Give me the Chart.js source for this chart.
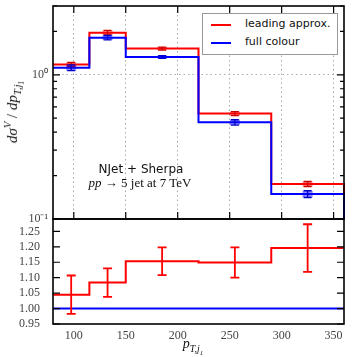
<!DOCTYPE html>
<html>
<head>
<meta charset="utf-8">
<script src="https://cdn.jsdelivr.net/npm/chart.js@4.4.1/dist/chart.umd.min.js"></script>
<style>
    body { margin: 0; background: #fff; width: 357px; height: 357px; position: relative; overflow: hidden; }
    canvas { position: absolute; left: 0; }
    #grafTop { top: 0; }
    #grafRatio { top: 212px; }
    .txt { position: absolute; white-space: nowrap; color: #111; }
    .serif { font-family: "Liberation Serif", serif; }
    .sans { font-family: "DejaVu Sans", sans-serif; }
    #leyenda { position: absolute; left: 202px; top: 13px; width: 134px; height: 40px; border: 1px solid #999; background: #fff; }
    .muestra { position: absolute; left: 8px; width: 20px; height: 2px; }
    .ley-txt { position: absolute; left: 42px; white-space: nowrap; font: 11px "DejaVu Sans", sans-serif; color: #111; }
    sub { font-size: 70%; }
    sup { font-size: 70%; }
</style>
</head>
<body>
<canvas id="grafTop" width="357" height="232"></canvas>
<canvas id="grafRatio" width="357" height="145"></canvas>

<div id="leyenda">
    <div class="muestra" style="top:10px;background:#ff0000"></div>
    <div class="ley-txt" style="top:3px">leading approx.</div>
    <div class="muestra" style="top:28px;background:#0000ff"></div>
    <div class="ley-txt" style="top:21px">full colour</div>
</div>

<div class="txt sans" style="left:141px;top:169px;transform:translate(-50%,-50%);font-size:12px">NJet + Sherpa</div>
<div class="txt serif" style="left:140px;top:183px;transform:translate(-50%,-50%);font-size:13px"><i>pp</i> → 5 jet at 7 TeV</div>
<div class="txt serif" style="left:14px;top:112px;transform:translate(-50%,-50%) rotate(-90deg);font-size:15px"><i>dσ<sup>V</sup></i> / <i>dp<sub>T,j<sub>1</sub></sub></i></div>
<div class="txt serif" style="left:193px;top:346px;transform:translate(-50%,-50%);font-size:14px"><i>p<sub>T,j<sub>1</sub></sub></i></div>

<script>
const BIN_EDGES = [80, 115, 150, 220, 290, 360];
const X_TICKS = [100, 150, 200, 250, 300, 350];

const LEADING = [1.18, 1.96, 1.52, 0.538, 0.175];
const LEADING_ERR = [0.038, 0.07, 0.036, 0.017, 0.007];
const FULL = [1.12, 1.81, 1.33, 0.468, 0.149];
const FULL_ERR = [0.05, 0.063, 0.03, 0.02, 0.008];

const RATIO = [1.045, 1.084, 1.153, 1.149, 1.196];
const RATIO_ERR = [0.062, 0.046, 0.045, 0.049, 0.077];
const RATIO_FULL = [1, 1, 1, 1, 1];

const LOG_TICKS = [0.1, 0.2, 0.3, 0.4, 0.5, 0.6, 0.7, 0.8, 0.9, 1, 2, 3];
const LOG_LABELS = { 0.1: "10⁻¹", 1: "10⁰" };
const RATIO_TICKS = [0.95, 1.0, 1.05, 1.1, 1.15, 1.2, 1.25];

const ROJO = "#ff0000";
const AZUL = "#0000ff";
const FUENTE_TICKS = { family: "Liberation Serif", size: 12 };

function centros() {
    return BIN_EDGES.slice(0, -1).map((e, i) => (e + BIN_EDGES[i + 1]) / 2);
}

function puntosEscalon(valores, fondo) {
    const pts = BIN_EDGES.map((e, i) => ({ x: e, y: valores[Math.min(i, valores.length - 1)] }));
    if (fondo !== undefined) {
        pts.push({ x: BIN_EDGES[BIN_EDGES.length - 1], y: fondo });
    }
    return pts;
}

// sin relleno extra para las etiquetas de los extremos
function ajustarY(s) {
    s.width = 53;
    s.paddingTop = 0;
    s.paddingBottom = 0;
}

function ajustarX(alto) {
    return s => {
        s.height = alto;
        s.paddingLeft = 0;
        s.paddingRight = 0;
    };
}

// caja + barra con topes, en coordenadas de las escalas
function pluginErrores(series, conCaja, anchoTope) {
    return {
        id: "errores",
        afterDatasetsDraw(chart) {
            const ctx = chart.ctx;
            const sx = chart.scales.x;
            const sy = chart.scales.y;
            const xs = centros();
            series.forEach(s => {
                s.valores.forEach((v, i) => {
                    const px = sx.getPixelForValue(xs[i]);
                    const yTop = sy.getPixelForValue(v + s.errores[i]);
                    const yBot = sy.getPixelForValue(v - s.errores[i]);
                    ctx.save();
                    if (conCaja) {
                        ctx.fillStyle = s.relleno;
                        ctx.fillRect(px - 5, yTop, 10, yBot - yTop);
                    }
                    ctx.strokeStyle = s.color;
                    ctx.lineWidth = s.grosor;
                    ctx.beginPath();
                    ctx.moveTo(px, yTop);
                    ctx.lineTo(px, yBot);
                    ctx.moveTo(px - anchoTope, yTop);
                    ctx.lineTo(px + anchoTope, yTop);
                    ctx.moveTo(px - anchoTope, yBot);
                    ctx.lineTo(px + anchoTope, yBot);
                    ctx.stroke();
                    ctx.restore();
                });
            });
        }
    };
}

// marco negro y marcas hacia dentro
function pluginMarco(conXTicks) {
    return {
        id: "marco",
        afterDraw(chart) {
            const ctx = chart.ctx;
            const a = chart.chartArea;
            const sx = chart.scales.x;
            const sy = chart.scales.y;
            ctx.save();
            ctx.strokeStyle = "#000";
            ctx.lineWidth = 1.2;
            ctx.beginPath();
            if (conXTicks) {
                sx.ticks.forEach(t => {
                    const px = sx.getPixelForValue(t.value);
                    ctx.moveTo(px, a.top);
                    ctx.lineTo(px, a.top + 7);
                    ctx.moveTo(px, a.bottom);
                    ctx.lineTo(px, a.bottom - 7);
                });
            }
            sy.ticks.forEach(t => {
                const py = sy.getPixelForValue(t.value);
                const largo = t.major ? 7 : 4;
                ctx.moveTo(a.left, py);
                ctx.lineTo(a.left + largo, py);
                ctx.moveTo(a.right, py);
                ctx.lineTo(a.right - largo, py);
            });
            ctx.stroke();
            ctx.lineWidth = 1.6;
            ctx.strokeRect(a.left, a.top, a.right - a.left, a.bottom - a.top);
            ctx.restore();
        }
    };
}

function crearGraficoTop() {
    new Chart(document.getElementById("grafTop"), {
        type: "line",
        data: {
            datasets: [
                { label: "full colour", data: puntosEscalon(FULL, 0.1), borderColor: AZUL, borderWidth: 2, stepped: true, pointRadius: 0, clip: false },
                { label: "leading approx.", data: puntosEscalon(LEADING, 0.1), borderColor: ROJO, borderWidth: 2, stepped: true, pointRadius: 0, clip: false }
            ]
        },
        options: {
            responsive: false,
            animation: false,
            layout: { padding: { top: 6, right: 13, bottom: 13, left: 0 } },
            plugins: { legend: { display: false }, tooltip: { enabled: false } },
            scales: {
                x: {
                    type: "linear",
                    min: BIN_EDGES[0],
                    max: BIN_EDGES[BIN_EDGES.length - 1],
                    afterBuildTicks: s => { s.ticks = X_TICKS.map(v => ({ value: v })); },
                    afterFit: ajustarX(0),
                    ticks: { display: false },
                    grid: { drawTicks: false, color: "#aaa", lineWidth: 1 },
                    border: { display: false, dash: [1.5, 3] }
                },
                y: {
                    type: "logarithmic",
                    min: 0.1,
                    max: 3,
                    afterBuildTicks: s => { s.ticks = LOG_TICKS.map(v => ({ value: v, major: v in LOG_LABELS })); },
                    afterFit: ajustarY,
                    ticks: {
                        autoSkip: false,
                        padding: 5,
                        color: "#444",
                        font: FUENTE_TICKS,
                        callback: v => LOG_LABELS[v] || ""
                    },
                    grid: { drawTicks: false, color: c => (c.tick && c.tick.value === 1 ? "#aaa" : "transparent") },
                    border: { display: false, dash: [1.5, 3] }
                }
            }
        },
        plugins: [
            pluginErrores([
                { valores: LEADING, errores: LEADING_ERR, color: "#cc0000", relleno: "rgba(255,0,0,0.45)", grosor: 1.3 },
                { valores: FULL, errores: FULL_ERR, color: "#0000cc", relleno: "rgba(0,0,255,0.45)", grosor: 1.3 }
            ], true, 4),
            pluginMarco(true)
        ]
    });
}

function crearGraficoRatio() {
    new Chart(document.getElementById("grafRatio"), {
        type: "line",
        data: {
            datasets: [
                { label: "full colour", data: puntosEscalon(RATIO_FULL), borderColor: AZUL, borderWidth: 2, pointRadius: 0, clip: false },
                { label: "leading approx.", data: puntosEscalon(RATIO), borderColor: ROJO, borderWidth: 2, stepped: true, pointRadius: 0, clip: false }
            ]
        },
        options: {
            responsive: false,
            animation: false,
            layout: { padding: { top: 7, right: 13, bottom: 0, left: 0 } },
            plugins: { legend: { display: false }, tooltip: { enabled: false } },
            scales: {
                x: {
                    type: "linear",
                    min: BIN_EDGES[0],
                    max: BIN_EDGES[BIN_EDGES.length - 1],
                    afterBuildTicks: s => { s.ticks = X_TICKS.map(v => ({ value: v })); },
                    afterFit: ajustarX(33),
                    ticks: { padding: -3, color: "#444", font: FUENTE_TICKS, autoSkip: false },
                    grid: { display: false },
                    border: { display: false }
                },
                y: {
                    min: 0.95,
                    max: 1.29,
                    afterBuildTicks: s => { s.ticks = RATIO_TICKS.map(v => ({ value: v, major: true })); },
                    afterFit: ajustarY,
                    ticks: {
                        autoSkip: false,
                        padding: 5,
                        color: "#444",
                        font: FUENTE_TICKS,
                        callback: v => v.toFixed(2)
                    },
                    grid: { display: false },
                    border: { display: false }
                }
            }
        },
        plugins: [
            pluginErrores([
                { valores: RATIO, errores: RATIO_ERR, color: ROJO, grosor: 1.8 }
            ], false, 4.5),
            pluginMarco(false)
        ]
    });
}

crearGraficoTop();
crearGraficoRatio();
</script>
</body>
</html>
